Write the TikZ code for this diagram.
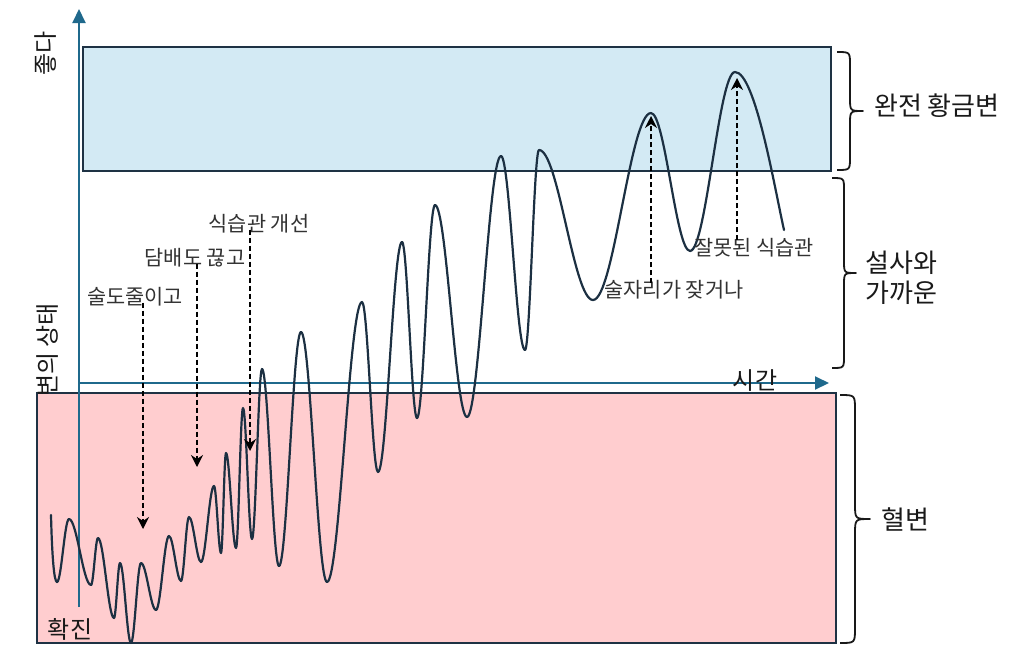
\documentclass[tikz,border=0pt]{standalone}
\usepackage{fontspec}
\setmainfont{Noto Sans CJK KR}
\usetikzlibrary{arrows.meta}
\definecolor{axisblue}{RGB}{31,105,140}
\definecolor{boxline}{RGB}{30,50,68}
\definecolor{bluefill}{RGB}{211,234,244}
\definecolor{pinkfill}{RGB}{255,205,207}
\definecolor{curvecol}{RGB}{28,48,66}
\definecolor{labelgray}{RGB}{50,50,50}
\definecolor{txt}{RGB}{25,25,25}
\newcommand{\myBrace}[4]{% x0, top, bottom, amplitude
  \pgfmathsetmacro\bh{#1+#4/2}%
  \pgfmathsetmacro\bt{#1+#4}%
  \pgfmathsetmacro\bm{(#2+#3)/2}%
  \pgfmathsetmacro\br{#4/2}%
  \draw[bracestyle] (#1,#2) .. controls (\bh,#2) .. (\bh,#2+\br) -- (\bh,\bm-\br)
    .. controls (\bh,\bm) .. (\bt,\bm) .. controls (\bh,\bm) .. (\bh,\bm+\br)
    -- (\bh,#3-\br) .. controls (\bh,#3) .. (#1,#3);}
\begin{document}
\begin{tikzpicture}[x=1pt,y=-1pt,
  axis/.style={draw=axisblue,line width=2pt,-{Triangle[length=14pt,width=13pt]}},
  bluebox/.style={draw=boxline,line width=2pt,fill=bluefill},
  pinkbox/.style={draw=boxline,line width=2pt,fill=pinkfill},
  curve/.style={draw=curvecol,line width=2.2pt,line join=round,line cap=round},
  bracestyle/.style={draw=txt,line width=1.8pt,line join=round},
  dasharrow/.style={draw=black,line width=1.9pt,dash pattern=on 5pt off 3pt,-{Stealth[length=12pt,width=12pt,inset=4pt]}},
  lab24/.style={text=txt,font=\fontsize{24}{29}\selectfont,inner sep=1pt},
  lab26/.style={text=txt,font=\fontsize{26}{31}\selectfont,inner sep=1pt},
  lab20/.style={text=labelgray,font=\fontsize{20.8}{25}\selectfont,inner sep=1pt},
]
\useasboundingbox (0,0) rectangle (1024,659);
% zones
\draw[pinkbox] (37,393) rectangle (836,643);
\draw[bluebox] (83,47) rectangle (831,171);
% axes
\coordinate (o) at (79,607);
\coordinate (ytop) at (79,9);
\coordinate (xl) at (79,383);
\coordinate (xr) at (829,383);
\draw[axis] (o) -- (ytop);
\draw[axis] (xl) -- (xr);
% curve
\draw[curve] (51,515) .. controls (52,555) and (54,582) .. (57,582)
  \foreach \x/\y [remember=\x as \px (initially 57), remember=\y as \py (initially 582)] in
  {69/519, 91/585, 98/538, 114/618, 120/563, 131/643, 141/563, 156/610, 169/536,
   181/581, 189/517, 201/562, 214/486, 221/553, 226/453, 236/548, 243/408, 252/539,
   262/369, 279/566, 301/332, 327/582, 362/302, 378/472, 402/242, 417/418, 435/205,
   467/417, 501/156, 525/350, 539/150, 593/300, 651/113, 690/251, 735/72}
  { .. controls ({\px+0.36*(\x-\px)},\py) and ({\x-0.36*(\x-\px)},\y) .. (\x,\y) }
  .. controls (755,72) and (774,185) .. (784,230);
% braces
\myBrace{837}{52}{170}{26}
\myBrace{832}{178}{368}{24}
\myBrace{840}{395}{643}{30}
% right labels
\node[lab26,anchor=west] (gold) at (873,106) {완전 황금변};
\node[lab26,anchor=west,align=left,font=\fontsize{26}{30}\selectfont] (near) at (864,278) {설사와\\가까운};
\node[lab26,anchor=west] (blood) at (880,519) {혈변};
% axis labels
\node[lab24,rotate=90] (good) at (46,53) {좋다};
\node[lab24,rotate=90] (state) at (48,350) {변의 상태};
\node[lab24] (diag) at (70,629) {확진};
\node[lab24] (time) at (755,381) {시간};
% event labels and arrows
\node[lab20] (a1) at (135,297) {술도줄이고};
\node[lab20] (a2) at (195,258) {담배도 끊고};
\node[lab20] (a3) at (259,224) {식습관 개선};
\node[lab20] (b1) at (674,290) {술자리가 잦거나};
\node[lab20] (b2) at (754,248) {잘못된 식습관};
\coordinate (a1t) at (143,529);
\coordinate (a2t) at (197,467);
\coordinate (a3t) at (250,451);
\coordinate (b1t) at (651,116);
\coordinate (b2t) at (737,78);
\draw[dasharrow] ([yshift=5pt]a1.south -| a1t) -- (a1t);
\draw[dasharrow] ([yshift=5pt]a2.south -| a2t) -- (a2t);
\draw[dasharrow] ([yshift=5pt]a3.south -| a3t) -- (a3t);
\draw[dasharrow] ([yshift=-4pt]b1.north -| b1t) -- (b1t);
\draw[dasharrow] ([yshift=-3pt]b2.north -| b2t) -- (b2t);
\end{tikzpicture}
\end{document}
